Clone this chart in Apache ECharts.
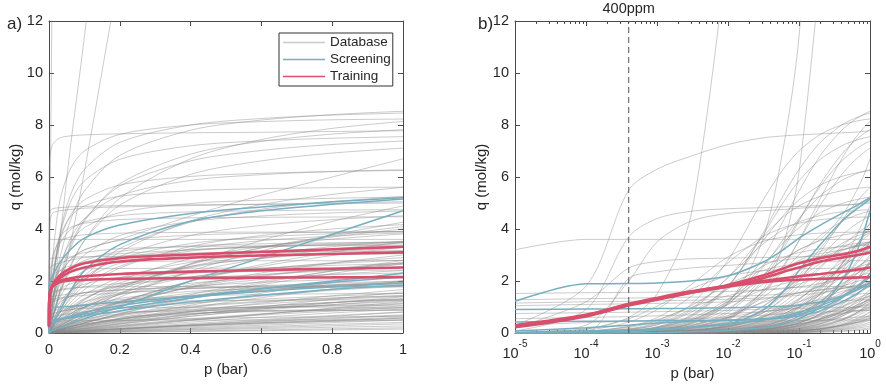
<!DOCTYPE html>
<html><head><meta charset="utf-8">
<script src="https://cdn.jsdelivr.net/npm/echarts@6/dist/echarts.min.js"></script>
<style>html,body{margin:0;padding:0;background:#fff}#c{width:886px;height:389px}</style>
</head><body><div id="c"></div><script>
// pressure grid (bar) shared by every isotherm
const pressures = [1e-5,1e-4,4e-4,1e-3,3e-3,0.01,0.03,0.06,0.1,0.2,0.4,0.6,0.8,1];
const linTickStep = 0.2;
const qTickStep = 2;
const logMinorTicks = [2e-5,3e-5,4e-5,5e-5,6e-5,7e-5,8e-5,9e-5,2e-4,3e-4,4e-4,5e-4,6e-4,7e-4,8e-4,9e-4,
  2e-3,3e-3,4e-3,5e-3,6e-3,7e-3,8e-3,9e-3,0.02,0.03,0.04,0.05,0.06,0.07,0.08,0.09,0.2,0.3,0.4,0.5,0.6,0.7,0.8,0.9];
const co2P = 4e-4;
const co2Label = '400ppm';
const qRange = [0, 12];

const trainingQ = [
  [0.25,0.68,1.1,1.32,1.58,1.85,2.2,2.48,2.68,2.88,3.02,3.12,3.22,3.32],
  [0.22,0.64,1.06,1.28,1.55,1.8,2.1,2.35,2.52,2.75,2.9,2.98,3.04,3.1],
  [0.3,0.7,1.12,1.35,1.6,1.82,2.0,2.1,2.18,2.27,2.36,2.42,2.47,2.52],
  [0.28,0.66,1.08,1.3,1.55,1.78,1.95,2.02,2.05,2.08,2.11,2.13,2.14,2.15]
];
const screeningQ = [
  [1.22,1.89,1.9,1.92,2.0,2.2,2.7,3.2,3.65,4.15,4.6,4.85,5.05,5.2],
  [0.02,0.08,0.12,0.16,0.22,0.35,0.85,1.6,2.4,3.4,4.3,4.7,4.95,5.15],
  [0,0,0.01,0.02,0.05,0.1,0.2,0.35,0.55,1.0,2.0,2.9,3.8,4.7],
  [0.9,0.92,0.93,0.94,0.95,0.97,1.0,1.03,1.08,1.2,1.4,1.6,1.77,1.92],
  [0.42,0.45,0.46,0.47,0.48,0.5,0.55,0.62,0.72,0.95,1.35,1.7,2.0,2.3],
  [0.08,0.2,0.3,0.38,0.44,0.48,0.52,0.58,0.65,0.85,1.2,1.45,1.68,1.85],
  [0,0.02,0.06,0.12,0.22,0.35,0.5,0.65,0.8,1.05,1.4,1.7,1.95,2.15]
];
const databaseQ = [
  [0.015,0.15,0.6,1.5,4.5,15],
  [0.001,0.012,0.05,0.12,0.36,1.15,3.5,7.1,11.4,23],
  [0.0005,0.005,0.02,0.05,0.15,0.5,1.6,3.4,6.2,14],
  [3.2,3.6,3.6,3.6,3.6,3.6,3.6,3.6,3.6,3.6,3.6,3.6,3.6,3.6],
  [0.3,1.8,5.5,6.3,6.8,7.25,7.5,7.58,7.62,7.66,7.7,7.72,7.75,7.78],
  [0.08,0.9,3.7,4.4,4.68,4.78,4.82,4.85,4.87,4.9,4.93,4.95,4.97,5.0],
  [0.03,0.3,2.0,3.5,4.3,4.6,4.7,4.75,4.8,4.85,4.9,4.95,5.0,5.05],
  [0.2,1.2,2.5,2.75,2.85,2.88,2.9,2.92,2.93,2.95,2.97,3.0,3.02,3.05],
  [0,0.02,2.1,2.35,2.5,2.6,2.7,2.8,2.9,3.05,3.2,3.3,3.4,3.5],
  [1.52,1.55,1.56,1.57,1.58,1.6,1.65,1.7,1.78,1.9,2.1,2.25,2.4,2.55],
  [1.28,1.32,1.34,1.36,1.38,1.4,1.45,1.5,1.55,1.65,1.8,1.95,2.05,2.15],
  [1.15,1.2,1.22,1.24,1.26,1.3,1.35,1.4,1.45,1.55,1.7,1.82,1.92,2.0],
  [1.05,1.1,1.12,1.14,1.16,1.2,1.3,1.42,1.55,1.8,2.15,2.45,2.7,2.9],
  [0.75,0.78,0.8,0.82,0.84,0.87,0.92,0.98,1.05,1.2,1.45,1.65,1.82,1.97],
  [0.55,0.6,0.63,0.66,0.7,0.75,0.82,0.9,0.98,1.15,1.4,1.62,1.8,1.95],
  [0.3,0.4,0.45,0.5,0.55,0.6,0.68,0.75,0.82,0.95,1.15,1.3,1.42,1.52],
  [0,0.01,0.05,0.13,0.39,1.19,2.82,4.31,5.46,6.83,7.8,8.19,8.4,8.53],
  [0,0.02,0.09,0.21,0.61,1.76,3.77,5.28,6.29,7.33,8.0,8.25,8.38,8.46],
  [0,0.01,0.02,0.06,0.17,0.54,1.45,2.52,3.56,5.18,6.7,7.44,7.87,8.14],
  [0,0.01,0.04,0.1,0.28,0.86,2.12,3.35,4.36,5.65,6.62,7.02,7.25,7.38],
  [0,0.02,0.08,0.2,0.55,1.3,2.2,2.8,3.2,3.6,4.5,5.3,6.0,6.7],
  [0,0.01,0.03,0.06,0.19,0.59,1.55,2.59,3.55,4.92,6.1,6.62,6.92,7.11],
  [0,0.01,0.05,0.13,0.38,1.1,2.48,3.6,4.4,5.28,5.87,6.09,6.21,6.28],
  [0,0.03,0.1,0.24,0.68,1.83,3.49,4.52,5.12,5.69,6.02,6.14,6.21,6.25],
  [0,0.03,0.13,0.32,0.87,2.14,3.66,4.46,4.89,5.26,5.47,5.55,5.59,5.61],
  [0,0,0.01,0.03,0.08,0.27,0.75,1.36,2.0,3.11,4.31,4.94,5.33,5.6],
  [0,0.04,0.16,0.4,1.09,2.8,5.04,6.3,7.0,7.64,8.0,8.13,8.2,8.23],
  [0,0.01,0.03,0.09,0.25,0.78,1.99,3.23,4.3,5.74,6.88,7.37,7.65,7.82],
  [0,0.02,0.09,0.23,0.65,1.8,3.7,5.02,5.85,6.68,7.2,7.39,7.49,7.55],
  [0,0.02,0.06,0.16,0.45,1.25,2.56,3.47,4.05,4.63,4.98,5.11,5.18,5.23],
  [0,0.01,0.03,0.07,0.22,0.65,1.55,2.37,3.0,3.75,4.29,4.5,4.62,4.69],
  [0,0.04,0.15,0.36,0.93,2.13,3.39,3.97,4.27,4.52,4.66,4.7,4.73,4.74],
  [0.01,0.07,0.25,0.59,1.4,2.7,3.68,4.05,4.22,4.36,4.43,4.45,4.46,4.47],
  [0,0,0,0.01,0.04,0.12,0.34,0.64,1.0,1.72,2.66,3.27,3.69,4.0],
  [0,0,0,0.01,0.02,0.07,0.2,0.4,0.64,1.17,2.0,2.63,3.11,3.5],
  [0,0,0.01,0.03,0.08,0.24,0.65,1.16,1.67,2.5,3.33,3.75,4.0,4.17],
  [0,0,0.02,0.04,0.12,0.39,0.99,1.61,2.15,2.87,3.44,3.69,3.82,3.91],
  [0,0.02,0.06,0.15,0.43,1.14,2.18,2.82,3.2,3.56,3.76,3.84,3.88,3.9],
  [0.01,0.11,0.42,0.9,1.85,2.93,3.51,3.69,3.78,3.84,3.87,3.88,3.88,3.89],
  [0,0.01,0.03,0.07,0.21,0.6,1.35,1.96,2.4,2.88,3.2,3.32,3.39,3.43],
  [0.02,0.16,0.55,1.03,1.69,2.19,2.39,2.44,2.47,2.48,2.49,2.5,2.5,2.5],
  [0,0.03,0.13,0.31,0.79,1.7,2.55,2.91,3.09,3.24,3.32,3.35,3.36,3.37],
  [0,0,0,0.01,0.03,0.08,0.24,0.46,0.75,1.38,2.38,3.16,3.77,4.26],
  [0,0,0.01,0.01,0.04,0.14,0.39,0.72,1.08,1.76,2.56,3.02,3.32,3.53],
  [0,0,0.01,0.03,0.09,0.29,0.76,1.3,1.81,2.57,3.24,3.55,3.73,3.85],
  [0,0.02,0.07,0.18,0.49,1.2,2.06,2.51,2.74,2.95,3.07,3.11,3.14,3.15],
  [0,0,0.01,0.02,0.07,0.22,0.58,0.97,1.33,1.85,2.29,2.48,2.6,2.67],
  [0.01,0.05,0.21,0.47,1.05,1.87,2.4,2.58,2.67,2.73,2.77,2.78,2.78,2.79],
  [0,0,0,0,0.01,0.03,0.09,0.18,0.29,0.57,1.07,1.53,1.94,2.31],
  [0,0,0,0,0.01,0.04,0.12,0.23,0.38,0.73,1.33,1.85,2.29,2.67],
  [0,0.01,0.03,0.07,0.21,0.58,1.19,1.61,1.88,2.14,2.31,2.37,2.4,2.42],
  [0,0,0,0.01,0.03,0.11,0.3,0.53,0.77,1.15,1.53,1.73,1.84,1.92],
  [0,0.02,0.08,0.2,0.51,1.1,1.65,1.89,2.0,2.09,2.15,2.16,2.17,2.18],
  [0,0,0.01,0.03,0.09,0.26,0.62,0.95,1.2,1.5,1.71,1.8,1.85,1.88],
  [0.01,0.07,0.25,0.51,0.98,1.44,1.66,1.73,1.76,1.78,1.79,1.79,1.79,1.8],
  [0,0,0,0,0.01,0.02,0.05,0.11,0.17,0.34,0.64,0.92,1.16,1.39],
  [0,0,0,0,0.01,0.04,0.13,0.25,0.39,0.69,1.13,1.42,1.64,1.8],
  [0,0,0.01,0.03,0.09,0.27,0.6,0.87,1.07,1.28,1.42,1.48,1.51,1.52],
  [0,0,0,0,0.01,0.04,0.12,0.23,0.35,0.56,0.82,0.96,1.06,1.13],
  [0,0.01,0.03,0.06,0.17,0.43,0.78,0.98,1.08,1.18,1.24,1.26,1.27,1.27],
  [0,0,0,0,0,0.01,0.02,0.05,0.08,0.15,0.3,0.43,0.55,0.67],
  [0,0,0,0.01,0.03,0.09,0.23,0.39,0.53,0.74,0.91,0.99,1.04,1.07],
  [0,0.01,0.06,0.13,0.31,0.6,0.82,0.9,0.94,0.97,0.98,0.99,0.99,0.99],
  [0,0,0,0,0,0.01,0.02,0.05,0.08,0.15,0.28,0.39,0.48,0.57],
  [0,0,0.01,0.03,0.1,0.26,0.49,0.64,0.72,0.8,0.85,0.86,0.87,0.88],
  [0,0,0,0.01,0.02,0.06,0.16,0.26,0.35,0.47,0.56,0.6,0.62,0.64],
  [0,0,0,0,0,0,0.01,0.02,0.03,0.06,0.12,0.17,0.22,0.27],
  [0,0.01,0.05,0.12,0.24,0.38,0.45,0.47,0.48,0.49,0.5,0.5,0.5,0.5],
  [0,0,0,0,0,0.01,0.03,0.06,0.09,0.17,0.29,0.38,0.44,0.5],
  [0,0,0,0,0,0.02,0.05,0.09,0.15,0.28,0.5,0.69,0.84,0.98],
  [0,0,0,0.01,0.02,0.08,0.22,0.41,0.64,1.11,1.76,2.18,2.48,2.7],
  [0,0,0,0.01,0.02,0.07,0.19,0.37,0.59,1.07,1.78,2.31,2.69,3.0],
  [0,0,0.02,0.05,0.13,0.41,1.01,1.59,2.07,2.68,3.15,3.34,3.44,3.51],
  [0,0,0,0,0,0.01,0.02,0.03,0.05,0.1,0.2,0.3,0.4,0.5],
  [0,0,0,0,0,0.01,0.02,0.05,0.08,0.16,0.32,0.48,0.64,0.8],
  [0,0,0,0,0,0.01,0.04,0.07,0.12,0.24,0.48,0.72,0.96,1.2],
  [0,0,0,0,0.01,0.02,0.06,0.12,0.19,0.37,0.7,1.0,1.3,1.58],
  [0,0,0,0,0,0,0.01,0.02,0.04,0.07,0.14,0.21,0.28,0.35],
  [0,0,0,0,0,0,0,0.01,0.02,0.03,0.06,0.09,0.12,0.15],
  [0,0,0,0,0.01,0.05,0.13,0.23,0.34,0.53,0.74,0.85,0.91,0.96],
  [0,0,0,0.01,0.02,0.06,0.17,0.32,0.5,0.86,1.33,1.64,1.85,2.0],
  [0,0,0,0.01,0.03,0.09,0.27,0.49,0.74,1.2,1.74,2.06,2.26,2.4],
  [0,0,0.01,0.02,0.06,0.18,0.46,0.75,1.0,1.33,1.6,1.71,1.78,1.82],
  [0,0,0,0,0,0.02,0.07,0.15,0.24,0.45,0.83,1.15,1.43,1.67],
  [0,0,0,0,0.01,0.03,0.08,0.17,0.27,0.52,0.97,1.36,1.69,2.0],
  [0,0,0.01,0.02,0.05,0.15,0.41,0.72,1.01,1.47,1.91,2.11,2.24,2.31],
  [0,0.01,0.04,0.1,0.28,0.68,1.16,1.41,1.54,1.66,1.73,1.75,1.76,1.77],
  [0,0,0,0.01,0.03,0.09,0.26,0.48,0.74,1.23,1.85,2.22,2.47,2.64],
  [0,0.01,0.05,0.12,0.34,0.94,1.85,2.43,2.79,3.14,3.35,3.43,3.47,3.5],
  [0,0,0.01,0.02,0.05,0.16,0.44,0.8,1.17,1.82,2.52,2.89,3.12,3.28],
  [0,0,0,0,0.01,0.04,0.12,0.24,0.39,0.75,1.38,1.92,2.39,2.79],
  [0,0,0,0.01,0.03,0.11,0.32,0.6,0.94,1.65,2.63,3.28,3.74,4.09],
  [0,0,0.01,0.03,0.1,0.32,0.85,1.46,2.05,2.94,3.75,4.14,4.36,4.51],
  [0,0,0,0.02,0.05,0.17,0.47,0.85,1.27,2.02,2.86,3.32,3.61,3.81],
  [0,0,0.01,0.03,0.1,0.32,0.88,1.54,2.2,3.25,4.26,4.76,5.05,5.25],
  [0,0,0,0.01,0.03,0.09,0.26,0.51,0.81,1.52,2.66,3.56,4.29,4.89],
  [0,0,0,0,0,0.01,0.03,0.06,0.1,0.19,0.36,0.52,0.67,0.81],
  [0,0,0,0,0.01,0.02,0.05,0.1,0.16,0.3,0.54,0.74,0.9,1.04],
  [0,0,0,0,0.01,0.03,0.08,0.15,0.24,0.43,0.72,0.93,1.09,1.22],
  [0,0,0,0.01,0.02,0.05,0.14,0.26,0.4,0.66,0.99,1.19,1.33,1.43],
  [0,0,0,0,0,0.01,0.02,0.04,0.06,0.12,0.24,0.35,0.46,0.57],
  [0,0,0,0,0,0,0.01,0.01,0.02,0.04,0.08,0.12,0.16,0.2],
  [0,0,0,0,0,0.01,0.02,0.04,0.07,0.14,0.27,0.39,0.5,0.61],
  [0,0,0,0.01,0.03,0.08,0.2,0.33,0.45,0.62,0.76,0.82,0.86,0.88],
  [0,0,0,0,0.01,0.03,0.1,0.19,0.3,0.54,0.88,1.11,1.28,1.41],
  [0,0,0,0,0.01,0.02,0.07,0.13,0.21,0.4,0.71,0.96,1.16,1.33],
  [0,0,0,0,0,0.01,0.03,0.07,0.11,0.22,0.42,0.6,0.77,0.92],
  [0,0,0,0.01,0.02,0.06,0.17,0.3,0.44,0.7,1.03,1.22,1.35,1.44],
  [0,0,0,0,0.01,0.02,0.06,0.11,0.18,0.35,0.64,0.88,1.09,1.27],
  [0,0,0,0,0,0.01,0.04,0.08,0.13,0.26,0.5,0.72,0.93,1.13],
  [0,0,0,0,0.01,0.04,0.11,0.2,0.31,0.53,0.83,1.03,1.17,1.27],
  [0,0,0,0,0,0.01,0.02,0.05,0.08,0.16,0.31,0.45,0.58,0.7],
  [0,0,0,0,0,0,0.01,0.03,0.04,0.09,0.17,0.25,0.33,0.41],
  [0,0,0,0,0.01,0.03,0.09,0.17,0.27,0.48,0.8,1.02,1.18,1.3],
  [0,0,0,0.01,0.03,0.1,0.29,0.55,0.86,1.49,2.33,2.86,3.22,3.48],
  [0,0,0.01,0.02,0.06,0.19,0.52,0.9,1.3,1.93,2.56,2.87,3.06,3.18],
  [0,0,0,0,0.01,0.05,0.14,0.28,0.45,0.84,1.48,1.98,2.38,2.71],
  [0,0,0,0.01,0.04,0.13,0.36,0.66,0.98,1.54,2.15,2.47,2.67,2.8],
  [0,0,0,0.01,0.02,0.07,0.21,0.41,0.66,1.19,1.99,2.56,2.98,3.3],
  [0,0,0.01,0.02,0.07,0.22,0.6,1.05,1.48,2.12,2.72,3.01,3.18,3.29]
];

const TXT = '#262626', AX = '#4a4a4a';
const FONT = '"Liberation Sans", Arial, Helvetica, sans-serif';
const GRAY = 'rgba(140,140,140,0.45)', BLUE = '#77afc0', RED = '#d84f6d';

function pts(q){ const out=[]; q.forEach((v,i)=>{ if(v!=null) out.push([pressures[i], v]); }); return out; }

const series = [];
function addCurve(q, name, color, width, z){
  [[0,0],[2,2]].forEach(([xi,yi])=>{
    series.push({
      type:'line', name, xAxisIndex:xi, yAxisIndex:yi, data:pts(q),
      showSymbol:false, symbol:'none', smooth:0.3,
      lineStyle:{color, width}, itemStyle:{color}, color, z, silent:true, animation:false, clip:true
    });
  });
}
databaseQ.forEach(q=>addCurve(q,'Database',GRAY,1,1));
screeningQ.forEach(q=>addCurve(q,'Screening',BLUE,1.5,2));
trainingQ.forEach(q=>addCurve(q,'Training',RED,2.6,3));
// 400 ppm reference line
series.push({type:'line', name:'co2', xAxisIndex:2, yAxisIndex:2, data:[[co2P,qRange[0]],[co2P,qRange[1]]],
  showSymbol:false, symbol:'none', silent:true, animation:false, z:4,
  lineStyle:{color:'#555', width:1, type:[6,4]}});

const tick = {show:true, inside:true, length:5, lineStyle:{color:AX, width:1}};
const aline = {show:true, onZero:false, lineStyle:{color:AX, width:1}};
const lbl = {color:TXT, fontSize:14.5, fontFamily:FONT};
const nameStyle = {color:TXT, fontSize:15, fontFamily:FONT};
const minorLog = logMinorTicks.map(v=>Math.log10(v));
const minorTick = {show:true, inside:true, length:3, lineStyle:{color:AX, width:1}, customValues:minorLog};

const option = {
  backgroundColor:'#fff',
  animation:false,
  grid:[{left:49, top:21, width:354, height:312},{left:515, top:21, width:355, height:312},
        {left:515, top:21, width:355, height:312}],
  xAxis:[
    {gridIndex:0, type:'value', min:0, max:1, interval:linTickStep, axisLine:aline, axisTick:tick,
     axisLabel:Object.assign({margin:9}, lbl), splitLine:{show:false},
     name:'p (bar)', nameLocation:'middle', nameGap:27, nameTextStyle:nameStyle},
    {gridIndex:0, type:'value', position:'top', min:0, max:1, interval:linTickStep, axisLine:aline, axisTick:tick,
     axisLabel:{show:false}, splitLine:{show:false}},
    {gridIndex:1, type:'log', logBase:10, min:1e-5, max:1, axisLine:aline, axisTick:tick, splitLine:{show:false},
     axisLabel:{margin:6, formatter:v=>'{b|10}{s|'+Math.round(Math.log10(v))+'}',
       rich:{b:{fontSize:14.5, color:TXT, fontFamily:FONT, lineHeight:22, verticalAlign:'bottom'},
             s:{fontSize:10, color:TXT, fontFamily:FONT, lineHeight:22, verticalAlign:'top'}}},
     name:'p (bar)', nameLocation:'middle', nameGap:31, nameTextStyle:nameStyle},
    {gridIndex:1, type:'log', logBase:10, min:1e-5, max:1, position:'top', axisLine:aline, axisTick:tick,
     axisLabel:{show:false}, splitLine:{show:false}},
    {gridIndex:2, type:'value', min:-5, max:0, position:'bottom', axisLine:{show:false}, axisTick:minorTick,
     axisLabel:{show:false}, splitLine:{show:false}},
    {gridIndex:2, type:'value', min:-5, max:0, position:'top', axisLine:{show:false}, axisTick:minorTick,
     axisLabel:{show:false}, splitLine:{show:false}}
  ],
  yAxis:[
    {gridIndex:0, type:'value', min:qRange[0], max:qRange[1], interval:qTickStep, axisLine:aline, axisTick:tick,
     axisLabel:Object.assign({margin:6}, lbl), splitLine:{show:false},
     name:'q (mol/kg)', nameLocation:'middle', nameGap:26, nameRotate:90, nameTextStyle:nameStyle},
    {gridIndex:0, type:'value', position:'right', min:qRange[0], max:qRange[1], interval:qTickStep, axisLine:aline, axisTick:tick,
     axisLabel:{show:false}, splitLine:{show:false}},
    {gridIndex:1, type:'value', min:qRange[0], max:qRange[1], interval:qTickStep, axisLine:aline, axisTick:tick,
     axisLabel:Object.assign({margin:6}, lbl), splitLine:{show:false},
     name:'q (mol/kg)', nameLocation:'middle', nameGap:24, nameRotate:90, nameTextStyle:nameStyle},
    {gridIndex:1, type:'value', position:'right', min:qRange[0], max:qRange[1], interval:qTickStep, axisLine:aline, axisTick:tick,
     axisLabel:{show:false}, splitLine:{show:false}},
    {gridIndex:2, type:'value', min:0, max:1, show:false}
  ],
  legend:{left:279, top:33, orient:'vertical', itemWidth:42, itemHeight:1.6, itemGap:0,
    padding:[1,2,1,4], borderColor:'#333', borderWidth:1, backgroundColor:'#fff', selectedMode:false,
    icon:'rect', textStyle:{fontSize:13.5, color:TXT, fontFamily:FONT, lineHeight:17},
    data:[{name:'Database', icon:'rect'},{name:'Screening', icon:'rect'},{name:'Training', icon:'rect'}]},
  series
};
const chart = echarts.init(document.getElementById('c'));
chart.setOption(option);
// place the 400ppm label above the reference line, via the axis scale
const co2Top = chart.convertToPixel({xAxisIndex:2, yAxisIndex:2}, [co2P, qRange[1]]);
chart.setOption({graphic:[
  {type:'text', left:7, top:16, style:{text:'a)', fontSize:17, fill:TXT, fontFamily:FONT}},
  {type:'text', left:478, top:16, style:{text:'b)', fontSize:17, fill:TXT, fontFamily:FONT}},
  {type:'text', x:co2Top[0], y:co2Top[1]-5, style:{text:co2Label, fontSize:14.5, fill:TXT, fontFamily:FONT, align:'center', verticalAlign:'bottom'}}
]});
</script></body></html>
